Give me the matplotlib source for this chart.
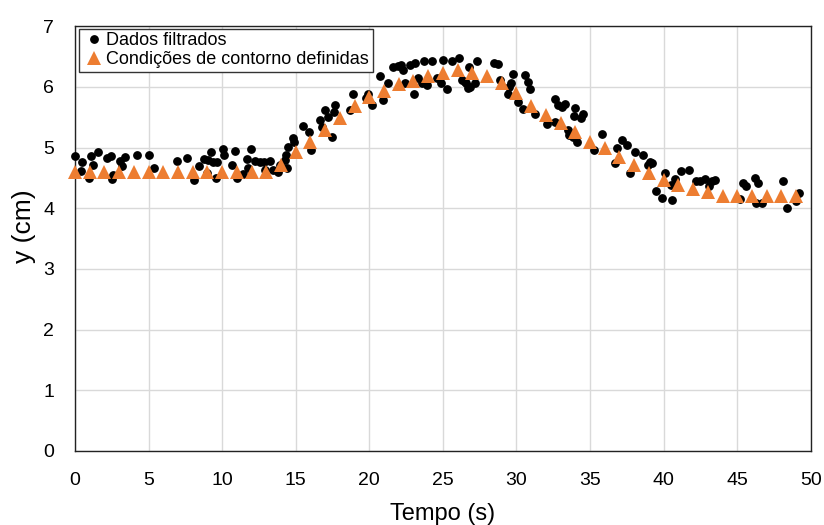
import matplotlib
matplotlib.use("Agg")
import matplotlib.pyplot as plt

plt.rcParams["font.family"] = ["Liberation Sans", "DejaVu Sans"]

# filtered data (black dots)
t_dados = [
    0.0, 0.39, 0.45, 0.95, 1.07, 1.2, 1.59, 2.2, 2.42, 2.49, 2.56, 3.06, 3.2, 3.4,
    4.23, 5.05, 5.37, 6.9, 7.59, 8.08, 8.42, 8.79, 8.94, 9.06, 9.22, 9.4, 9.56,
    9.63, 10.03, 10.15, 10.7, 10.87, 10.98, 11.4, 11.66, 11.78, 11.93, 12.23,
    12.57, 12.84, 12.9, 13.25, 13.47, 13.8, 13.9, 14.27, 14.33, 14.4, 14.5,
    14.79, 14.88, 15.5, 15.9, 16.03, 16.64, 16.76, 16.98, 17.2, 17.44, 17.6,
    17.66, 18.68, 18.86, 19.8, 19.93, 20.15, 20.7, 20.94, 21.3, 21.6, 21.97,
    22.15, 22.26, 22.4, 22.76, 23.03, 23.1, 23.3, 23.55, 23.73, 23.9, 24.27,
    24.57, 24.9, 25.02, 25.3, 25.6, 26.1, 26.27, 26.5, 26.6, 26.7, 26.8, 26.85,
    27.2, 27.3, 28.5, 28.76, 28.87, 29.4, 29.5, 29.66, 29.77, 30.07, 30.46,
    30.57, 30.8, 30.9, 31.25, 32.05, 32.6, 32.62, 32.8, 33.1, 33.3, 33.5, 33.6,
    33.85, 33.9, 34.0, 34.1, 34.4, 34.5, 35.3, 35.8, 36.7, 36.8, 37.2, 37.5,
    37.7, 38.04, 38.6, 38.95, 39.06, 39.2, 39.5, 39.86, 40.08, 40.5, 40.6,
    40.76, 41.2, 41.7, 42.2, 42.46, 42.8, 43.1, 43.3, 43.5, 45.2, 45.4, 45.6,
    46.2, 46.3, 46.4, 46.7, 48.08, 48.4, 48.98, 49.2,
]
y_dados = [
    4.86, 4.61, 4.77, 4.50, 4.86, 4.72, 4.93, 4.83, 4.86, 4.49, 4.55, 4.78, 4.70, 4.84,
    4.87, 4.87, 4.67, 4.78, 4.83, 4.46, 4.70, 4.81, 4.58, 4.80, 4.93, 4.77, 4.50,
    4.77, 4.98, 4.88, 4.71, 4.94, 4.50, 4.57, 4.81, 4.67, 4.98, 4.78,
    4.77, 4.77, 4.63, 4.78, 4.63, 4.60, 4.71, 4.79, 4.88, 4.66, 5.01,
    5.15, 5.10, 5.35, 5.26, 4.96, 5.45, 5.34, 5.62, 5.51, 5.17, 5.58,
    5.70, 5.62, 5.89, 5.81, 5.89, 5.70, 6.18, 5.78, 6.07, 6.33, 6.34,
    6.36, 6.28, 6.07, 6.36, 5.89, 6.40, 6.14, 6.06, 6.43, 6.03, 6.43,
    6.14, 6.07, 6.44, 5.97, 6.42, 6.47, 6.11, 6.08, 6.07, 5.99, 6.33, 6.00,
    6.06, 6.42, 6.39, 6.38, 6.11, 5.89, 6.00, 6.06, 6.21, 5.75, 5.63,
    6.19, 6.08, 5.96, 5.56, 5.39, 5.80, 5.42, 5.70, 5.67, 5.72, 5.29, 5.21,
    5.17, 5.52, 5.65, 5.10, 5.48, 5.56, 4.96, 5.23, 4.74, 4.99, 5.12, 5.04,
    4.58, 4.93, 4.88, 4.71, 4.77, 4.74, 4.28, 4.17, 4.58, 4.38, 4.13,
    4.49, 4.61, 4.63, 4.45, 4.45, 4.49, 4.37, 4.45, 4.47, 4.15, 4.42, 4.37,
    4.50, 4.08, 4.41, 4.08, 4.45, 4.01, 4.12, 4.25,
]

# boundary conditions (orange triangles), one per second
t_contorno = list(range(50))
y_contorno = [
    4.60, 4.60, 4.60, 4.60, 4.60, 4.60, 4.60, 4.60, 4.60, 4.60,
    4.60, 4.60, 4.60, 4.60, 4.71, 4.92, 5.09, 5.29, 5.49, 5.69,
    5.84, 5.94, 6.05, 6.09, 6.18, 6.23, 6.28, 6.23, 6.18, 6.07,
    5.90, 5.69, 5.54, 5.40, 5.25, 5.10, 4.99, 4.85, 4.72, 4.58,
    4.47, 4.38, 4.32, 4.26, 4.21, 4.20, 4.20, 4.20, 4.20, 4.21,
]

fig = plt.figure(figsize=(8.24, 5.25), dpi=100)
ax = fig.add_axes([0.091, 0.141, 0.893, 0.809])

ax.plot(t_dados, y_dados, "o", color="black", markersize=5.3, label="Dados filtrados",
        zorder=3, clip_on=False)
ax.plot(t_contorno, y_contorno, "^", color="#ED7D31", markersize=10,
        markeredgewidth=0, label="Condições de contorno definidas", zorder=4, clip_on=False)

ax.set_xlim(0, 50)
ax.set_ylim(0, 7)
ax.set_xticks(range(0, 51, 5))
ax.set_yticks(range(0, 8))
ax.grid(True, color="#D9D9D9", linewidth=1)
ax.set_axisbelow(True)
ax.tick_params(length=0, labelsize=14)
ax.tick_params(axis="x", pad=15)
ax.tick_params(axis="y", pad=15)
for s in ax.spines.values():
    s.set_color("#222222")
    s.set_linewidth(1)

ax.set_xlabel("Tempo (s)", fontsize=17, labelpad=10)
ax.set_ylabel("y (cm)", fontsize=19, va="center")
ax.yaxis.set_label_coords(-0.069, 0.529)

leg = ax.legend(loc="upper left", bbox_to_anchor=(0.006, 0.994), borderaxespad=0,
                fontsize=13, frameon=True, fancybox=False, edgecolor="#333333",
                framealpha=1, handletextpad=0.1, handlelength=1.2, labelspacing=0.1,
                borderpad=0.2, numpoints=1)
leg.get_frame().set_linewidth(1)

fig.savefig("out.png", dpi=100)
